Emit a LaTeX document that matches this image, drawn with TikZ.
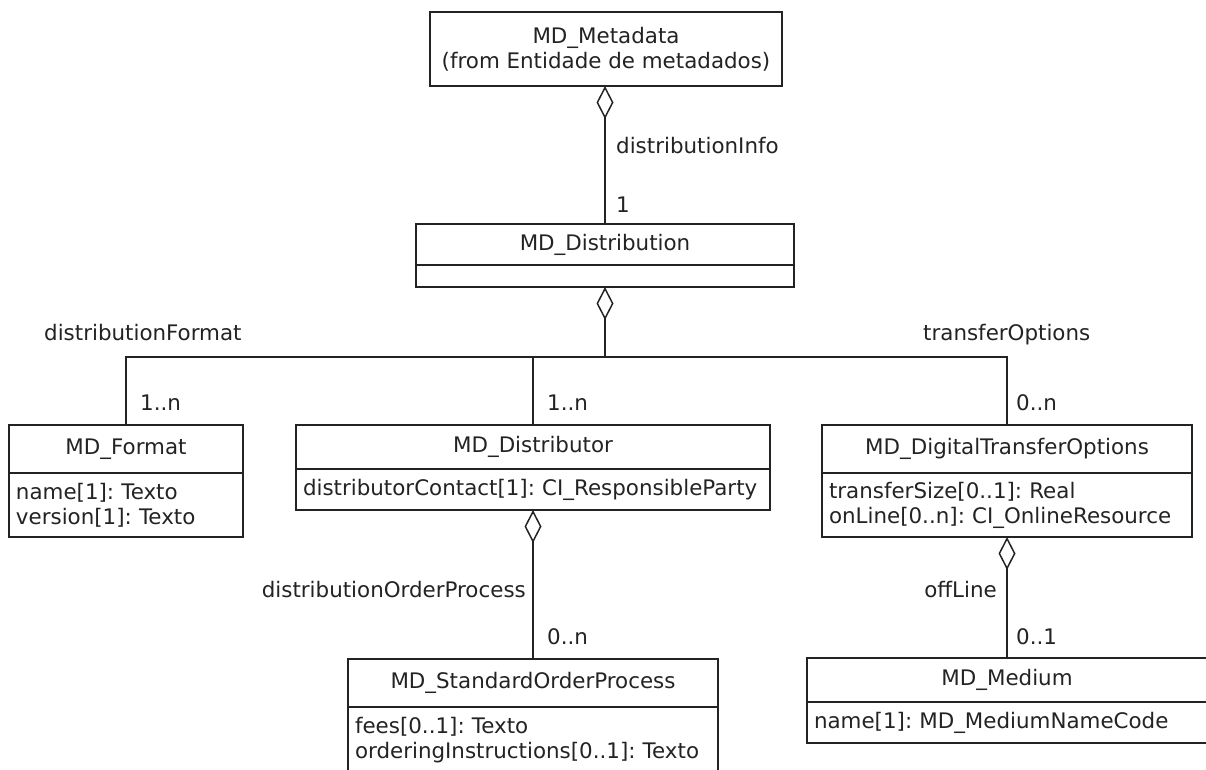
\documentclass[tikz,border=0pt]{standalone}
\usepackage{fontspec}
\setmainfont{DejaVu Sans}
\usetikzlibrary{arrows.meta}
\definecolor{ink}{RGB}{35,35,35}
\frenchspacing
\tikzset{
  every node/.style={font=\fontsize{21.4}{25}\selectfont\frenchspacing, text=ink},
  umlbox/.style={draw=ink, line width=1.5pt, inner sep=0pt, outer sep=0pt, anchor=north west},
  attrbox/.style={umlbox, align=left, inner xsep=7pt},
  conn/.style={draw=ink, line width=1.5pt},
  agg/.style={conn, -{Diamond[open, length=33pt, width=17pt]}},
  lbl/.style={inner sep=0pt},
}
\begin{document}
\begin{tikzpicture}[x=1pt, y=-1pt]
\useasboundingbox (0,0) rectangle (1206,769);

% MD_Metadata
\node[umlbox, minimum width=352, minimum height=74, align=center] (meta) at (430,12)
  {MD\_Metadata\\(from Entidade de metadados)};

% MD_Distribution
\node[umlbox, minimum width=378, minimum height=41] (dist) at (416,224) {MD\_Distribution};
\node[umlbox, minimum width=378, minimum height=22] (distB) at (dist.south west) {};

% MD_Format
\node[umlbox, minimum width=234, minimum height=48] (fmt) at (9,425) {MD\_Format};
\node[attrbox, text width=220, minimum height=64] (fmtA) at (fmt.south west)
  {name[1]: Texto\\version[1]: Texto};

% MD_Distributor
\node[umlbox, minimum width=474, minimum height=44] (dtor) at (296,425) {MD\_Distributor};
\node[attrbox, text width=460, minimum height=41] (dtorA) at (dtor.south west)
  {distributorContact[1]: CI\_ResponsibleParty};

% MD_DigitalTransferOptions
\node[umlbox, minimum width=370, minimum height=48] (dto) at (822,425) {MD\_DigitalTransferOptions};
\node[attrbox, text width=356, minimum height=64] (dtoA) at (dto.south west)
  {transferSize[0..1]: Real\\onLine[0..n]: CI\_OnlineResource};

% MD_StandardOrderProcess (runs past the lower edge of the page;
% the empty last line keeps the two attributes at the top)
\node[umlbox, minimum width=370, minimum height=48] (sop) at (348,659) {MD\_StandardOrderProcess};
\node[attrbox, text width=356, minimum height=87] (sopA) at (sop.south west)
  {fees[0..1]: Texto\\orderingInstructions[0..1]: Texto\\\mbox{}};

% MD_Medium (runs past the right edge of the page)
\node[umlbox, minimum width=400, minimum height=44] (med) at (807,658) {MD\_Medium};
\node[attrbox, text width=386, minimum height=41] (medA) at (med.south west)
  {name[1]: MD\_MediumNameCode};

% aggregations
\draw[agg] (dist.north) -- (dist.north |- meta.south);
\coordinate (hub) at (605,357);
\draw[conn] (fmt.north) |- (hub);
\draw[conn] (dtor.north) |- (hub);
\draw[conn] (dto.north) |- (hub);
\draw[agg] (hub) -- (hub |- distB.south);
\draw[agg] (sop.north) -- (dtorA.south);
\draw[agg] (med.north) -- (dtoA.south);

% role names and multiplicities
\node[lbl, anchor=base west] (rInfo) at (616,153) {distributionInfo};
\node[lbl, anchor=base west] (mInfo) at (616,212) {1};
\node[lbl, anchor=base west] (rFmt) at (44,340) {distributionFormat};
\node[lbl, anchor=base west] (mFmt) at (140,410) {1..n};
\node[lbl, anchor=base west] (mDtor) at (547,410) {1..n};
\node[lbl, anchor=base west] (rTo) at (923,340) {transferOptions};
\node[lbl, anchor=base west] (mTo) at (1016,410) {0..n};
\node[lbl, anchor=base east] (rOrd) at (526,597) {distributionOrderProcess};
\node[lbl, anchor=base west] (mOrd) at (547,644) {0..n};
\node[lbl, anchor=base east] (rOff) at (997,597) {offLine};
\node[lbl, anchor=base west] (mOff) at (1016,644) {0..1};
\end{tikzpicture}
\end{document}
